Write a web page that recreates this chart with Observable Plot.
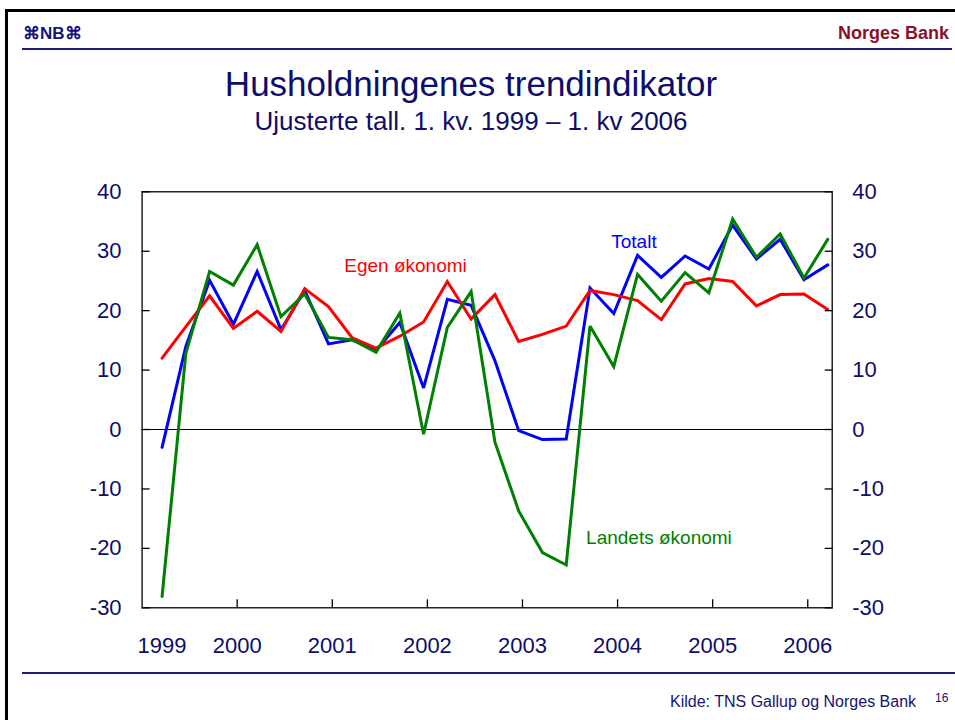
<!DOCTYPE html>
<html>
<head>
<meta charset="utf-8">
<script src="https://cdn.jsdelivr.net/npm/d3@7"></script>
<script src="https://cdn.jsdelivr.net/npm/@observablehq/plot@0.6"></script>
<style>
  body { margin: 0; background: #fff; }
  #slide { position: relative; width: 955px; height: 720px; overflow: hidden; background: #fff;
           font-family: Arial, "Liberation Sans", sans-serif; }
  .abs { position: absolute; white-space: nowrap; line-height: 1; }
  .rule { position: absolute; }
  #chart { position: absolute; left: 0; top: 160px; }
</style>
</head>
<body>
<div id="slide">
  <div class="rule" style="left:6px; top:9px; width:949px; height:3px; background:#000;"></div>
  <div class="rule" style="left:5px; top:9px; width:3px; height:711px; background:#000;"></div>
  <div class="abs" id="logo" style="left:23px; top:25px; font-size:17px; font-weight:bold; color:#14147a;">⌘NB⌘</div>
  <div class="abs" id="bank" style="right:6px; top:24px; font-size:18px; font-weight:bold; color:#8a0f28;">Norges Bank</div>
  <div class="rule" style="left:22px; top:48px; width:930px; height:2px; background:#1c1c7e;"></div>
  <div class="abs" id="title" style="left:0; width:942px; text-align:center; top:66px; font-size:35px; color:#0d0d6b;"></div>
  <div class="abs" id="subtitle" style="left:0; width:942px; text-align:center; top:108px; font-size:26px; color:#0d0d6b;"></div>
  <div id="chart"></div>
  <div class="rule" style="left:22px; top:672px; width:933px; height:2px; background:#1c1c7e;"></div>
  <div class="abs" id="source" style="left:670px; top:694px; font-size:16px; color:#141470;"></div>
  <div class="abs" id="page" style="left:935px; top:692px; font-size:12px; color:#141470;">16</div>
</div>
<script>
// ---- Data ----
const titleText = "Husholdningenes trendindikator";
const subtitleText = "Ujusterte tall. 1. kv. 1999 – 1. kv 2006";
const sourceText = "Kilde: TNS Gallup og Norges Bank";

const quarters = [
  "1999K1","1999K2","1999K3","1999K4",
  "2000K1","2000K2","2000K3","2000K4",
  "2001K1","2001K2","2001K3","2001K4",
  "2002K1","2002K2","2002K3","2002K4",
  "2003K1","2003K2","2003K3","2003K4",
  "2004K1","2004K2","2004K3","2004K4",
  "2005K1","2005K2","2005K3","2005K4",
  "2006K1"
];
const egenOkonomi = [12.0, 17.3, 22.5, 17.0, 19.9, 16.5, 23.7, 20.7, 15.4, 13.7, 15.7, 18.1, 24.9, 18.6, 22.7, 14.8, 16.0, 17.4, 23.4, 22.7, 21.7, 18.5, 24.5, 25.4, 24.9, 20.8, 22.7, 22.8, 20.2];
const totalt      = [-3.0, 14.0, 25.1, 17.7, 26.6, 16.8, 23.4, 14.4, 15.1, 13.3, 18.0, 7.0, 21.9, 20.9, 11.6, -0.2, -1.7, -1.6, 23.8, 19.5, 29.3, 25.6, 29.2, 27.0, 34.4, 28.7, 32.0, 25.2, 27.7];
const landetsOkonomi = [-28.1, 12.8, 26.6, 24.3, 31.1, 19.0, 22.8, 15.5, 15.1, 13.0, 19.6, -0.8, 17.2, 23.2, -2.1, -13.7, -20.7, -22.8, 17.4, 10.6, 26.1, 21.6, 26.4, 23.0, 35.4, 29.0, 32.9, 25.5, 32.0];

const seriesNames = ["Totalt", "Egen økonomi", "Landets økonomi"];
const seriesColors = ["#0000ff", "#ff0000", "#008000"];

const yTicks = [-30, -20, -10, 0, 10, 20, 30, 40];
const xTickYears = [2000, 2001, 2002, 2003, 2004, 2005, 2006];
const yearLabels = ["1999", "2000", "2001", "2002", "2003", "2004", "2005", "2006"];

// Series label positions (quarter index, value)
const seriesLabels = [
  {name: "Egen økonomi", q: 10.24, v: 27.6},
  {name: "Totalt", q: 19.85, v: 31.5},
  {name: "Landets økonomi", q: 20.9, v: -18.2}
];

// ---- Build table ----
// quarter position on a year axis (points sit slightly after the year boundary)
const qPos = (label) => +label.slice(0, 4) + (+label.slice(5) - 1) / 4 + 0.21;
const tOfIndex = i => qPos(quarters[Math.floor(i)]) + (i - Math.floor(i)) * 0.25;

const rows = [];
const values = {"Totalt": totalt, "Egen økonomi": egenOkonomi, "Landets økonomi": landetsOkonomi};
for (const s of seriesNames) {
  quarters.forEach((q, i) => rows.push({series: s, t: qPos(q), v: values[s][i]}));
}
const labelPositions = [qPos(quarters[0]), ...xTickYears];
const labelRows = seriesLabels.map(d => ({...d, t: tOfIndex(d.q)}));

document.getElementById("title").textContent = titleText;
document.getElementById("subtitle").textContent = subtitleText;
document.getElementById("source").textContent = sourceText;

const navy = "#0d0d6b";
const axisFont = 22;

const chart = Plot.plot({
  width: 955,
  height: 500,
  marginLeft: 141.6,
  marginRight: 123.3,
  marginTop: 31.3,
  marginBottom: 52.7,
  style: {fontFamily: 'Arial, "Liberation Sans", sans-serif', background: "transparent", color: "#000", overflow: "visible"},
  x: {domain: [1999, 2006.257], axis: null},
  y: {domain: [-30, 40], axis: null},
  color: {domain: seriesNames, range: seriesColors},
  marks: [
    Plot.ruleY([0], {stroke: "#000", strokeWidth: 1.2}),
    Plot.line(rows, {x: "t", y: "v", z: "series", stroke: "series", strokeWidth: 3, strokeLinejoin: "miter", strokeMiterlimit: 3}),
    Plot.frame({stroke: "#000", strokeWidth: 1.3}),
    // inward tick marks
    Plot.axisY({anchor: "left", ticks: yTicks, tickSize: 8, dx: 8, tickFormat: () => "", label: null, stroke: "#000", strokeWidth: 1.3}),
    Plot.axisY({anchor: "right", ticks: yTicks, tickSize: 8, dx: -8, tickFormat: () => "", label: null, stroke: "#000", strokeWidth: 1.3}),
    Plot.axisX({anchor: "bottom", ticks: xTickYears, tickSize: 8, dy: -8, tickFormat: () => "", label: null, stroke: "#000", strokeWidth: 1.3}),
    // tick labels
    Plot.axisY({anchor: "left", ticks: yTicks, tickSize: 0, tickPadding: 20.5, tickFormat: d => String(d), label: null, fill: navy, fontSize: axisFont}),
    Plot.axisY({anchor: "right", ticks: yTicks, tickSize: 0, tickPadding: 20, tickFormat: d => String(d), label: null, fill: navy, fontSize: axisFont}),
    Plot.axisX({anchor: "bottom", ticks: labelPositions, tickSize: 0, tickPadding: 30, tickFormat: d => yearLabels[labelPositions.indexOf(d)], label: null, fill: navy, fontSize: axisFont}),
    // series labels
    Plot.text(labelRows, {x: "t", y: "v", text: "name", fill: d => d.name, fontSize: 19, textAnchor: "middle", lineAnchor: "middle"})
  ]
});
document.getElementById("chart").appendChild(chart);
</script>
</body>
</html>
